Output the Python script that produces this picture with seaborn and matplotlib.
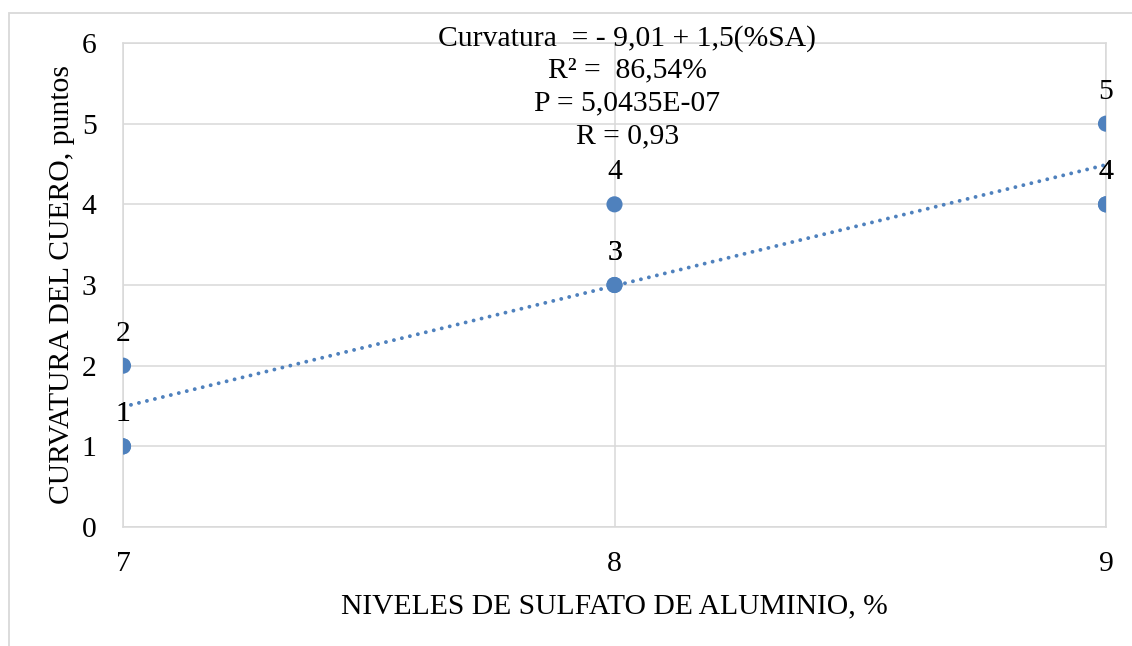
import matplotlib
matplotlib.use("Agg")
import matplotlib.pyplot as plt
from matplotlib.patches import Rectangle
import numpy as np
import pandas as pd
import seaborn as sns

# Observations: aluminium sulphate level (%) and leather curvature score
niveles = [7, 7, 7, 8, 8, 8, 9, 9, 9]
curvatura = [1, 1, 2, 3, 3, 4, 4, 4, 5]

# Fitted regression
intercepto = -9.01
pendiente = 1.5

ecuacion = [
    "Curvatura  = - 9,01 + 1,5(%SA)",
    "R² =  86,54%",
    "P = 5,0435E-07",
    "R = 0,93",
]

x_label = "NIVELES DE SULFATO DE ALUMINIO, %"
y_label = "CURVATURA DEL CUERO, puntos"
x_ticks = [7, 8, 9]
y_ticks = [0, 1, 2, 3, 4, 5, 6]

blue = "#4f81bd"
grid_c = "#d9d9d9"
FS = 21.3

sns.set_theme(style="white")
plt.rcParams["font.family"] = ["Liberation Serif", "DejaVu Serif"]
plt.rcParams["text.color"] = "black"
plt.rcParams["axes.labelcolor"] = "black"

W, H = 1132, 646
fig = plt.figure(figsize=(W / 100, H / 100), dpi=100)
ax = fig.add_axes([123 / W, (H - 527) / H, (1106 - 123) / W, (527 - 43) / H])

df = pd.DataFrame({"x": niveles, "y": curvatura})

# dotted linear trend line
xs = np.array([min(niveles), max(niveles)], dtype=float)
sns.lineplot(x=xs, y=intercepto + pendiente * xs, ax=ax, color=blue,
             linestyle=(0, (0.01, 2.1)), linewidth=2.8, dash_capstyle="round",
             zorder=3)

sns.scatterplot(data=df, x="x", y="y", ax=ax, color=blue, s=135,
                edgecolor="none", linewidth=0, zorder=4)

# value labels above the points
for xv, yv in zip(niveles, curvatura):
    ax.annotate(str(yv), (xv, yv), xytext=(0, 23), textcoords="offset points",
                ha="center", va="center", fontsize=FS, color="black",
                zorder=5)

ax.set_xlim(7, 9)
ax.set_ylim(0, 6)
ax.set_xticks(x_ticks)
ax.set_yticks(y_ticks)
ax.grid(True, color=grid_c, linewidth=1.1)
ax.set_axisbelow(True)
for sp in ax.spines.values():
    sp.set_color(grid_c)
    sp.set_linewidth(1.1)
ax.tick_params(axis="both", length=0, labelsize=FS, colors="black")
ax.tick_params(axis="x", pad=17)
ax.tick_params(axis="y", pad=19)
ax.set_xlabel(x_label, fontsize=FS, labelpad=12, color="black")
ax.set_ylabel(y_label, fontsize=FS, labelpad=5, color="black")

# regression statistics box
line_y = [6.06, 5.665, 5.255, 4.84]
for txt, yy in zip(ecuacion, line_y):
    ax.text(0.513, yy, txt, transform=ax.get_yaxis_transform(), ha="center",
            va="center", fontsize=FS, color="black", zorder=6)

# outer chart frame
fig.patches.append(Rectangle((9 / W, -0.05), 1.2, (H - 13) / H + 0.05,
                             transform=fig.transFigure, fill=False,
                             edgecolor=grid_c, linewidth=1.3))

fig.savefig("out.png", dpi=100, facecolor="white")
